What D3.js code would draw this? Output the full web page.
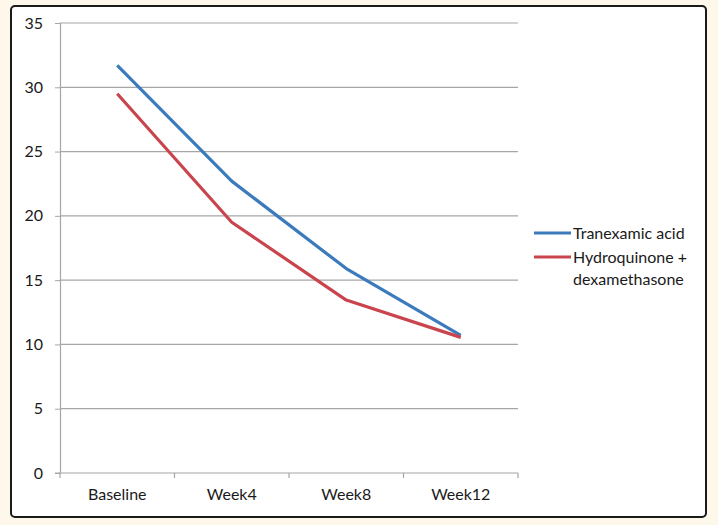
<!DOCTYPE html>
<html><head><meta charset="utf-8">
<script src="https://cdn.jsdelivr.net/npm/d3@7"></script>
<style>
html,body{margin:0;padding:0;background:#fdf8ea;}
svg{display:block;}
text{font-family:Lato,"Open Sans",sans-serif;fill:#1a1a1a;}
</style></head>
<body>
<svg id="chart" width="718" height="525"></svg>
<script>
const categories = ["Baseline","Week4","Week8","Week12"];
const seriesNames = ["Tranexamic acid","Hydroquinone + dexamethasone"];
const tranexamic = [31.7, 22.7, 15.9, 10.7];
const hydroquinone = [29.5, 19.5, 13.45, 10.55];
const yTicks = [0,5,10,15,20,25,30,35];

const colors = ["#3b7bbd","#c9444d"];
const svg = d3.select("#chart");

svg.append("rect").attr("x",11).attr("y",6).attr("width",695).attr("height",511)
  .attr("rx",4).attr("fill","#ffffff").attr("stroke","#1a1a1a").attr("stroke-width",2);

const x = d3.scaleBand().domain(categories).range([60,518]);
const y = d3.scaleLinear().domain([0,35]).range([473,23]);

// gridlines
svg.append("g").selectAll("line").data(yTicks.filter(d=>d>0)).join("line")
  .attr("x1",60).attr("x2",518).attr("y1",d=>y(d)).attr("y2",d=>y(d))
  .attr("stroke","#a6a6a6").attr("stroke-width",1.2);

const yAxis = svg.append("g").attr("transform","translate(60,0)")
  .call(d3.axisLeft(y).tickValues(yTicks).tickSize(5).tickPadding(12));
yAxis.select(".domain").attr("stroke","#a6a6a6").attr("stroke-width",1.2);
yAxis.selectAll(".tick line").attr("stroke","#a6a6a6");
yAxis.selectAll("text").attr("font-size",16).style("font-family","Lato,'Open Sans',sans-serif").attr("fill","#1a1a1a");

const xAxis = svg.append("g").attr("transform","translate(0,473)")
  .call(d3.axisBottom(x).tickSize(0).tickPadding(16));
xAxis.select(".domain").remove();
xAxis.selectAll("text").attr("font-size",16).style("font-family","Lato,'Open Sans',sans-serif").attr("fill","#1a1a1a");
svg.append("line").attr("x1",55).attr("x2",518).attr("y1",473).attr("y2",473)
  .attr("stroke","#a6a6a6").attr("stroke-width",1.2);
const edges = categories.map(c=>x(c)).concat([x.range()[1]]);
svg.append("g").selectAll("line").data(edges).join("line")
  .attr("x1",d=>d).attr("x2",d=>d).attr("y1",473).attr("y2",478)
  .attr("stroke","#a6a6a6").attr("stroke-width",1.2);

const line = d3.line().x((d,i)=>x(categories[i])+x.bandwidth()/2).y(d=>y(d));
[tranexamic, hydroquinone].forEach((s,i)=>{
  svg.append("path").datum(s).attr("d",line).attr("fill","none")
    .attr("stroke",colors[i]).attr("stroke-width",3.2).attr("stroke-linejoin","round");
});

// legend
const lg = svg.append("g");
const legendRows = [
  {lines:["Tranexamic acid"], y:233},
  {lines:["Hydroquinone +","dexamethasone"], y:257}
];
legendRows.forEach((r,i)=>{
  lg.append("line").attr("x1",534).attr("x2",571).attr("y1",r.y).attr("y2",r.y)
    .attr("stroke",colors[i]).attr("stroke-width",3.2);
  r.lines.forEach((t,j)=>{
    lg.append("text").attr("x",573).attr("y",r.y+j*22).attr("dy","0.35em")
      .attr("font-size",16).text(t);
  });
});
</script>
</body></html>
